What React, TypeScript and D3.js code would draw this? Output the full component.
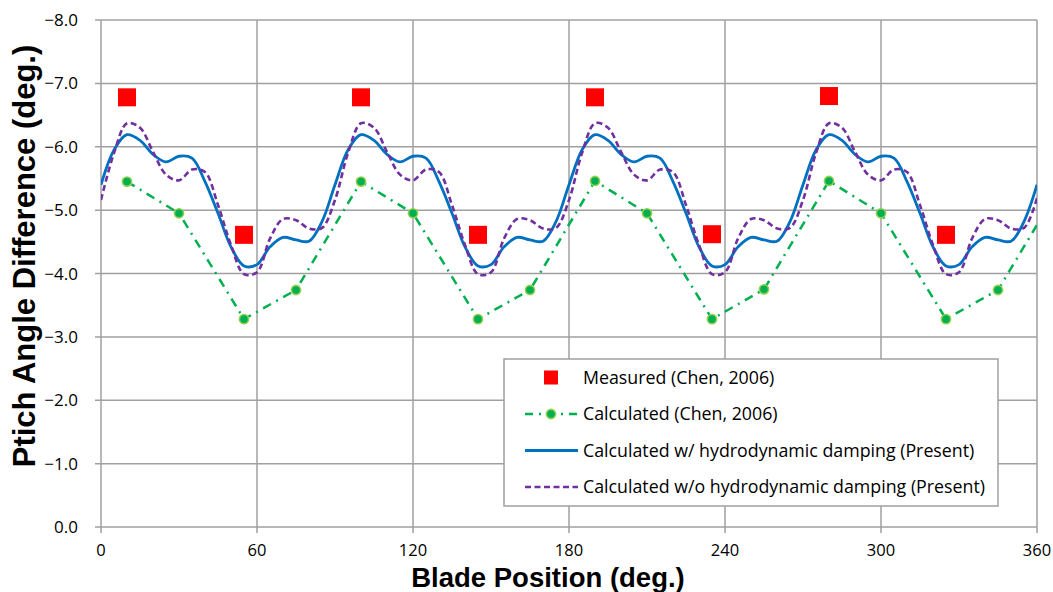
import React from "react";
import * as d3 from "d3";

// ---------------- DATA ----------------
const xTicks = [0, 60, 120, 180, 240, 300, 360];
const yTicks = [0, -1, -2, -3, -4, -5, -6, -7, -8];

const measuredX = [10, 55, 100, 145, 190, 235, 280, 325];
const measuredY = [-6.78, -4.61, -6.78, -4.61, -6.78, -4.62, -6.8, -4.61];

const chenCalcX = [10, 30, 55, 75, 100, 120, 145, 165, 190, 210, 235, 255, 280, 300, 325, 345, 370];
const chenCalcY = [-5.45, -4.95, -3.28, -3.74, -5.45, -4.95, -3.28, -3.74, -5.46, -4.95, -3.28, -3.75, -5.46, -4.95, -3.28, -3.74, -5.45];

const presentX = [
  0, 5, 10, 15, 20, 25, 30, 35, 40, 45, 50, 55, 60, 65, 70, 75, 80, 85,
  90, 95, 100, 105, 110, 115, 120, 125, 130, 135, 140, 145, 150, 155, 160, 165, 170, 175,
  180, 185, 190, 195, 200, 205, 210, 215, 220, 225, 230, 235, 240, 245, 250, 255, 260, 265,
  270, 275, 280, 285, 290, 295, 300, 305, 310, 315, 320, 325, 330, 335, 340, 345, 350, 355,
  360,
];
const withDamping = [
  -5.4, -5.95, -6.19, -6.1, -5.88, -5.76, -5.85, -5.82, -5.45, -4.95, -4.42, -4.12, -4.14, -4.42, -4.57, -4.53, -4.51, -4.82,
  -5.4, -5.95, -6.19, -6.1, -5.88, -5.76, -5.85, -5.82, -5.45, -4.95, -4.42, -4.12, -4.14, -4.42, -4.57, -4.53, -4.51, -4.82,
  -5.4, -5.95, -6.19, -6.1, -5.88, -5.76, -5.85, -5.82, -5.45, -4.95, -4.42, -4.12, -4.14, -4.42, -4.57, -4.53, -4.51, -4.82,
  -5.4, -5.95, -6.19, -6.1, -5.88, -5.76, -5.85, -5.82, -5.45, -4.95, -4.42, -4.12, -4.14, -4.42, -4.57, -4.53, -4.51, -4.82,
  -5.4,
];
const withoutDamping = [
  -5.16, -5.9, -6.37, -6.3, -5.92, -5.56, -5.47, -5.64, -5.6, -5.08, -4.45, -3.99, -4.02, -4.55, -4.86, -4.84, -4.71, -4.72,
  -5.16, -5.9, -6.37, -6.3, -5.92, -5.56, -5.47, -5.64, -5.6, -5.08, -4.45, -3.99, -4.02, -4.55, -4.86, -4.84, -4.71, -4.72,
  -5.16, -5.9, -6.37, -6.3, -5.92, -5.56, -5.47, -5.64, -5.6, -5.08, -4.45, -3.99, -4.02, -4.55, -4.86, -4.84, -4.71, -4.72,
  -5.16, -5.9, -6.37, -6.3, -5.92, -5.56, -5.47, -5.64, -5.6, -5.08, -4.45, -3.99, -4.02, -4.55, -4.86, -4.84, -4.71, -4.72,
  -5.19,
];

const legendLabels = [
  "Measured (Chen, 2006)",
  "Calculated (Chen, 2006)",
  "Calculated w/ hydrodynamic damping (Present)",
  "Calculated w/o hydrodynamic damping (Present)",
];

// ---------------- STYLE ----------------
const W = 1053;
const H = 592;
const M = { left: 101, right: 1037, top: 20, bottom: 527 };
const GRID = "#a0a0a0";
const BLUE = "#0070C0";
const PURPLE = "#7030A0";
const GREEN = "#00B050";
const GREEN_LIGHT = "#92D050";
const RED = "#FF0000";
const TICK_FONT = "'Open Sans', 'DejaVu Sans', sans-serif";
const TITLE_FONT = "'Liberation Sans', Arial, sans-serif";

export default function App() {
  const x = d3.scaleLinear().domain([0, 360]).range([M.left, M.right]);
  const y = d3.scaleLinear().domain([0, -8]).range([M.bottom, M.top]);

  const smooth = d3
    .line<[number, number]>()
    .x((d) => x(d[0]))
    .y((d) => y(d[1]))
    .curve(d3.curveCatmullRom.alpha(0.5));
  const straight = d3
    .line<[number, number]>()
    .x((d) => x(d[0]))
    .y((d) => y(d[1]));

  const blueData = presentX.map((v, i) => [v, withDamping[i]] as [number, number]);
  const purpleData = presentX.map((v, i) => [v, withoutDamping[i]] as [number, number]);
  const greenData = chenCalcX.map((v, i) => [v, chenCalcY[i]] as [number, number]);

  const legend = { x: 504, y: 359, w: 494, h: 147 };
  const rowY = [377.5, 414, 450.5, 487];
  const symL = 525;
  const symR = 578;
  const symC = 551;
  const textX = 583;

  return (
    <svg
      width={W}
      height={H}
      style={{ position: "absolute", left: 0, top: 0, background: "#fff" }}
    >
      <defs>
        <clipPath id="plotClip">
          <rect x={M.left} y={M.top} width={M.right - M.left} height={M.bottom - M.top} />
        </clipPath>
      </defs>

      {/* grid */}
      {yTicks.map((t) => (
        <line key={"gy" + t} x1={M.left - 6} x2={M.right} y1={y(t)} y2={y(t)} stroke={GRID} strokeWidth={1.5} />
      ))}
      {xTicks.map((t) => (
        <line key={"gx" + t} x1={x(t)} x2={x(t)} y1={M.top} y2={M.bottom + 6} stroke={GRID} strokeWidth={1.5} />
      ))}

      {/* y tick labels */}
      {yTicks.map((t) => (
        <text
          key={"yl" + t}
          x={78}
          y={y(t)}
          dy="0.36em"
          textAnchor="end"
          fontFamily={TICK_FONT}
          fontSize={17}
          fill="#000"
        >
          {d3.format(".1f")(t)}
        </text>
      ))}
      {/* x tick labels */}
      {xTicks.map((t) => (
        <text
          key={"xl" + t}
          x={x(t)}
          y={556}
          textAnchor="middle"
          fontFamily={TICK_FONT}
          fontSize={16.5}
          fill="#000"
        >
          {t}
        </text>
      ))}

      {/* series */}
      <g clipPath="url(#plotClip)">
        <path
          d={straight(greenData) || ""}
          fill="none"
          stroke={GREEN}
          strokeWidth={2.5}
          strokeDasharray="9,6,2,6"
        />
        <path d={smooth(blueData) || ""} fill="none" stroke={BLUE} strokeWidth={2.8} />
        <path
          d={smooth(purpleData) || ""}
          fill="none"
          stroke={PURPLE}
          strokeWidth={2.6}
          strokeDasharray="6,3.5"
        />
      </g>
      {greenData
        .filter((d) => d[0] <= 360)
        .map((d, i) => (
          <circle
            key={"gc" + i}
            cx={x(d[0])}
            cy={y(d[1])}
            r={4.6}
            fill={GREEN}
            stroke={GREEN_LIGHT}
            strokeWidth={1.6}
          />
        ))}
      {measuredX.map((v, i) => (
        <rect
          key={"ms" + i}
          x={x(v) - 9}
          y={y(measuredY[i]) - 9}
          width={18}
          height={18}
          fill={RED}
        />
      ))}

      {/* legend */}
      <rect
        x={legend.x}
        y={legend.y}
        width={legend.w}
        height={legend.h}
        fill="#fff"
        stroke={GRID}
        strokeWidth={1.5}
      />
      <rect x={symC - 7} y={rowY[0] - 7} width={14} height={14} fill={RED} />
      <line x1={symL} x2={symR} y1={rowY[1]} y2={rowY[1]} stroke={GREEN} strokeWidth={2.5} strokeDasharray="8,6,2,6" />
      <circle cx={symC} cy={rowY[1]} r={4.6} fill={GREEN} stroke={GREEN_LIGHT} strokeWidth={1.6} />
      <line x1={symL} x2={symR} y1={rowY[2]} y2={rowY[2]} stroke={BLUE} strokeWidth={2.8} />
      <line x1={symL} x2={symR} y1={rowY[3]} y2={rowY[3]} stroke={PURPLE} strokeWidth={2.6} strokeDasharray="6,3.5" />
      {legendLabels.map((l, i) => (
        <text
          key={"lg" + i}
          x={textX}
          y={rowY[i]}
          dy="0.36em"
          fontFamily={TICK_FONT}
          fontSize={17.8}
          fill="#000"
        >
          {l}
        </text>
      ))}

      {/* axis titles */}
      <text
        x={548}
        y={586.5}
        textAnchor="middle"
        fontFamily={TITLE_FONT}
        fontWeight="bold"
        fontSize={27.5}
        fill="#000"
      >
        Blade Position (deg.)
      </text>
      <text
        transform={`translate(35, ${256}) rotate(-90)`}
        textAnchor="middle"
        fontFamily={TITLE_FONT}
        fontWeight="bold"
        fontSize={31}
        fill="#000"
      >
        Ptich Angle Difference (deg.)
      </text>
    </svg>
  );
}
